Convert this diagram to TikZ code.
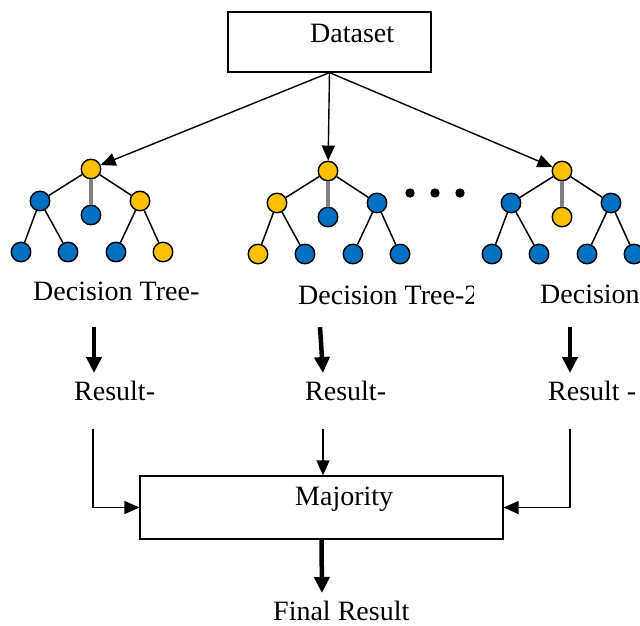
\documentclass[tikz,border=0pt]{standalone}
\usepackage{fontspec}
\setmainfont{Liberation Serif}
\usetikzlibrary{arrows.meta}

\definecolor{ty}{HTML}{FFC000}
\definecolor{tb}{HTML}{0070C0}

\tikzset{
  leaf/.style={circle, draw=black, line width=1.4pt, minimum size=19.5pt, inner sep=0pt},
  branch/.style={black, line width=1.5pt},
  trunk/.style={black!50, line width=3.8pt},
  lbl/.style={font=\fontsize{28}{30}\selectfont, inner sep=0pt, anchor=base west},
  box/.style={draw, line width=1.2pt, inner sep=0pt},
  feed/.style={line width=1.4pt, -{Triangle[length=15pt,width=13pt]}},
  heavy/.style={line width=4.5pt, -{Triangle[length=16pt,width=15pt]}}
}

\begin{document}
\begin{tikzpicture}[x=1pt, y=-1pt]
        \useasboundingbox (0,0) rectangle (640,625);
        \clip (0,0) rectangle (640,625);

        % top box
        \node[box, minimum width=203pt, minimum height=60pt] (data) at (329.5,42) {};
        \node[lbl] (datatxt) at (310,42) {Dataset};

        % the trees
        \foreach \n/\x/\y/\ca/\cb/\cc/\cd/\ce/\cf/\cg/\ch in {
            1/91/169/ty/tb/tb/ty/tb/tb/tb/ty,
            2/328/171/ty/ty/tb/tb/ty/tb/tb/tb,
            3/562/171/ty/tb/ty/tb/tb/tb/tb/tb}{
          \node[leaf, fill=\ca] (r\n) at (\x,\y) {};
          \node[leaf, fill=\cb] (a\n) at (\x-51,\y+32) {};
          \node[leaf, fill=\cc] (b\n) at (\x,\y+46) {};
          \node[leaf, fill=\cd] (c\n) at (\x+49,\y+32) {};
          \node[leaf, fill=\ce] (p\n) at (\x-70,\y+83) {};
          \node[leaf, fill=\cf] (q\n) at (\x-23,\y+83) {};
          \node[leaf, fill=\cg] (s\n) at (\x+25,\y+83) {};
          \node[leaf, fill=\ch] (u\n) at (\x+72,\y+83) {};
          \draw[trunk] (r\n) -- (b\n);
          \draw[branch] (r\n) -- (a\n) (r\n) -- (c\n)
                        (a\n) -- (p\n) (a\n) -- (q\n)
                        (c\n) -- (s\n) (c\n) -- (u\n);
        }

        \foreach \x in {410,435,460}
          \fill (\x,193) circle (4.7pt);

        \draw[feed] (data.south) -- (r1);
        \draw[feed] (data.south) -- (r2);
        \draw[feed] (data.south) -- (r3);

        % tree labels
        \node[lbl] (dt1) at (33,300) {Decision Tree-};
        \begin{scope}
          \clip (240,260) rectangle (473,320);
          \node[lbl] (dt2) at (298,304) {Decision Tree-2};
        \end{scope}
        \node[lbl] (dt3) at (540,303) {Decision Tree-3};

        \coordinate (d1) at (94,327);
        \coordinate (e1) at (94,373);
        \coordinate (d2) at (320,327);
        \coordinate (e2) at (323,373);
        \coordinate (d3) at (570,327);
        \coordinate (e3) at (570,373);
        \draw[heavy] (d1) -- (e1);
        \draw[heavy] (d2) -- (e2);
        \draw[heavy] (d3) -- (e3);

        % results
        \node[lbl] (res1) at (74,400) {Result-};
        \node[lbl] (res2) at (305,400) {Result-};
        \node[lbl] (res3) at (548,400) {Result -};

        \node[box, minimum width=363pt, minimum height=63pt] (maj) at (321.5,507.5) {};
        \node[lbl] (majtxt) at (295,505) {Majority};

        \coordinate (g1) at (93,429);
        \coordinate (g2) at (323,429);
        \coordinate (g3) at (570,429);
        \draw[feed] (g1) |- (maj.west);
        \draw[feed] (g2) -- (g2 |- maj.north);
        \draw[feed] (g3) |- (maj.east);

        \coordinate (fin) at (322,593);
        \draw[heavy] (maj.south) -- (fin);
        \node[lbl] (fintxt) at (273,620) {Final Result};

    \end{tikzpicture}
\end{document}
